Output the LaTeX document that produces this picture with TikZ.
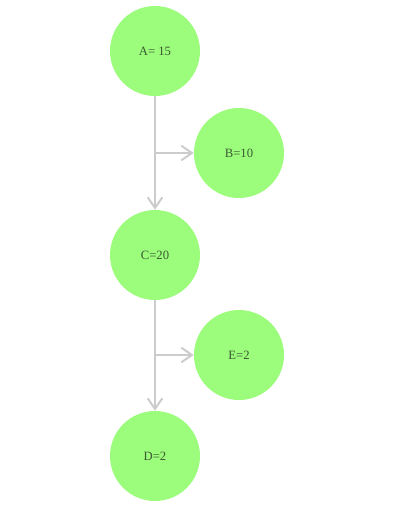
\documentclass[tikz,border=0pt]{standalone}
\usepackage{fontspec}
\setmainfont{Liberation Serif}
\usetikzlibrary{arrows.meta}
\definecolor{nodegreen}{HTML}{9CFC7C}
\definecolor{linegray}{HTML}{CCCCCC}
\definecolor{textgray}{HTML}{3A5A30}
\begin{document}
\begin{tikzpicture}[x=0.75pt,y=-0.75pt,
  val/.style={circle,fill=nodegreen,minimum size=67.5pt,inner sep=0pt,text=textgray,font=\fontsize{9.5}{11}\selectfont},
  conn/.style={draw=linegray,line width=1pt,-{Straight Barb[length=8pt,width=11pt,line width=1.5pt]}}]
\useasboundingbox (0,0) rectangle (409,507);
\node[val] (A) at (155,51) {A= 15};
\node[val] (B) at (239,153) {B=10};
\node[val] (C) at (155,255) {C=20};
\node[val] (E) at (239,355) {E=2};
\node[val] (D) at (155,456) {D=2};
\coordinate (j1) at (155,153);
\coordinate (j2) at (155,355);
\draw[conn] (A) -- (C);
\draw[conn] (j1) -- (B);
\draw[conn] (C) -- (D);
\draw[conn] (j2) -- (E);
\end{tikzpicture}
\end{document}
